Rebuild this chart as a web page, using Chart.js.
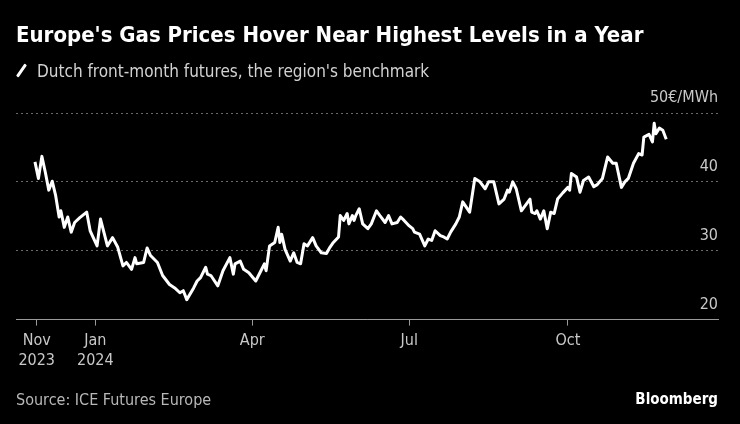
<!DOCTYPE html>
<html>
<head>
<meta charset="utf-8">
<script src="https://cdn.jsdelivr.net/npm/chart.js@4"></script>
<style>
  html, body { margin: 0; padding: 0; background: #000; }
  #wrap { position: relative; width: 740px; height: 424px; overflow: hidden; background: #000; }
  #chart-box { position: absolute; left: 0; top: 0; width: 740px; height: 424px; }
  .txt { position: absolute; white-space: nowrap; font-family: 'DejaVu Sans Condensed', 'DejaVu Sans', sans-serif; }
  #title { left: 16px; top: 22px; font-size: 22px; font-weight: bold; color: #fff; line-height: 26px; }
  #subtitle { left: 37px; top: 61px; font-size: 17px; color: #d2d2d2; line-height: 20px; }
  #slash { position: absolute; left: 20px; top: 63px; width: 3px; height: 15px; background: #fff; border-radius: 1px; transform: rotate(35deg); }
  #source { left: 16px; top: 391px; font-size: 16px; color: #b8b8b8; line-height: 18px; }
  #logo { right: 22px; top: 389px; font-size: 15px; font-weight: bold; color: #fff; line-height: 20px; }
</style>
</head>
<body>
<div id="wrap">
  <div id="chart-box"><canvas id="gas-chart"></canvas></div>
  <div class="txt" id="title">Europe's Gas Prices Hover Near Highest Levels in a Year</div>
  <div id="slash"></div>
  <div class="txt" id="subtitle">Dutch front-month futures, the region's benchmark</div>
  <div class="txt" id="source">Source: ICE Futures Europe</div>
  <div class="txt" id="logo">Bloomberg</div>
</div>
<script>
// Dutch TTF front-month, EUR/MWh
const dates = [
    '2023-11-27', '2023-11-29', '2023-12-01', '2023-12-03', '2023-12-05', '2023-12-07', '2023-12-09',
    '2023-12-11', '2023-12-12', '2023-12-14', '2023-12-16', '2023-12-18', '2023-12-20', '2023-12-23',
    '2023-12-27', '2023-12-29', '2024-01-02', '2024-01-04', '2024-01-08', '2024-01-11', '2024-01-14',
    '2024-01-17', '2024-01-19', '2024-01-22', '2024-01-24', '2024-01-25', '2024-01-29', '2024-01-31',
    '2024-02-02', '2024-02-06', '2024-02-09', '2024-02-13', '2024-02-16', '2024-02-19', '2024-02-21',
    '2024-02-23', '2024-02-27', '2024-02-29', '2024-03-02', '2024-03-05', '2024-03-06', '2024-03-08',
    '2024-03-12', '2024-03-15', '2024-03-19', '2024-03-21', '2024-03-22', '2024-03-25', '2024-03-27',
    '2024-03-30', '2024-04-03', '2024-04-06', '2024-04-08', '2024-04-09', '2024-04-11', '2024-04-14',
    '2024-04-16', '2024-04-17', '2024-04-18', '2024-04-20', '2024-04-23', '2024-04-25', '2024-04-27',
    '2024-04-29', '2024-05-01', '2024-05-03', '2024-05-06', '2024-05-08', '2024-05-11', '2024-05-14',
    '2024-05-16', '2024-05-18', '2024-05-21', '2024-05-22', '2024-05-24', '2024-05-26', '2024-05-27',
    '2024-05-29', '2024-05-30', '2024-05-31', '2024-06-02', '2024-06-04', '2024-06-07', '2024-06-09',
    '2024-06-12', '2024-06-14', '2024-06-17', '2024-06-19', '2024-06-21', '2024-06-24', '2024-06-26',
    '2024-06-28', '2024-07-01', '2024-07-03', '2024-07-04', '2024-07-07', '2024-07-10', '2024-07-12',
    '2024-07-14', '2024-07-16', '2024-07-19', '2024-07-21', '2024-07-23', '2024-07-25', '2024-07-28',
    '2024-07-30', '2024-08-01', '2024-08-05', '2024-08-08', '2024-08-11', '2024-08-14', '2024-08-16',
    '2024-08-19', '2024-08-22', '2024-08-25', '2024-08-27', '2024-08-28', '2024-08-30', '2024-09-01',
    '2024-09-04', '2024-09-09', '2024-09-10', '2024-09-12', '2024-09-13', '2024-09-15', '2024-09-17',
    '2024-09-19', '2024-09-21', '2024-09-23', '2024-09-25', '2024-09-28', '2024-10-01', '2024-10-02',
    '2024-10-03', '2024-10-06', '2024-10-08', '2024-10-10', '2024-10-13', '2024-10-16', '2024-10-18',
    '2024-10-21', '2024-10-24', '2024-10-27', '2024-10-29', '2024-11-01', '2024-11-03', '2024-11-05',
    '2024-11-08', '2024-11-11', '2024-11-13', '2024-11-14', '2024-11-17', '2024-11-19', '2024-11-20',
    '2024-11-21', '2024-11-23', '2024-11-25', '2024-11-27'
];
const prices = [
    42.9, 40.5, 43.7, 41.4, 38.8, 40.1, 38.0,
    34.9, 35.8, 33.4, 34.9, 32.7, 34.1, 34.8,
    35.6, 32.9, 30.7, 34.6, 30.7, 31.9, 30.5,
    27.8, 28.3, 27.3, 29.0, 28.1, 28.3, 30.4,
    29.3, 28.3, 26.4, 25.1, 24.6, 23.9, 24.2,
    22.9, 24.6, 25.6, 26.1, 27.6, 26.6, 26.4,
    24.9, 27.1, 29.0, 26.6, 28.1, 28.5, 27.3,
    26.8, 25.6, 27.1, 28.1, 27.1, 30.7, 31.2,
    33.4, 31.2, 32.4, 30.2, 28.5, 29.7, 28.3,
    28.1, 31.0, 30.7, 31.9, 30.7, 29.7, 29.6,
    30.5, 31.2, 32.0, 35.1, 34.4, 35.4, 33.9,
    35.1, 34.4, 35.1, 36.1, 33.9, 33.2, 33.9,
    35.8, 35.1, 34.1, 35.1, 33.9, 34.1, 34.9,
    34.4, 33.6, 33.2, 32.7, 32.4, 30.7, 31.7,
    31.5, 32.9, 32.2, 32.0, 31.7, 32.7, 33.9,
    34.9, 37.1, 35.6, 40.5, 40.0, 39.0, 40.0,
    40.0, 36.8, 37.5, 38.8, 38.5, 40.0, 39.0,
    35.8, 37.5, 35.6, 35.4, 35.8, 34.6, 35.8,
    33.2, 35.6, 35.4, 37.5, 38.4, 39.2, 38.8,
    41.2, 40.7, 38.5, 40.2, 40.7, 39.3, 39.6,
    40.5, 43.6, 42.7, 42.7, 39.2, 40.0, 40.5,
    42.7, 44.1, 43.9, 46.5, 46.9, 45.8, 48.5,
    47.0, 47.8, 47.5, 46.2
];

const xTickDates = ['2023-11-28', '2024-01-01', '2024-04-01', '2024-07-01', '2024-10-01'];
const xTickLabels = [['Nov', '2023'], ['Jan', '2024'], ['Apr'], ['Jul'], ['Oct']];
const yTicks = [20, 30, 40, 50];
const yUnit = '€/MWh';

const xMin = '2023-11-16';
const xMax = '2024-12-27';

const axisFont = { family: "'DejaVu Sans Condensed', 'DejaVu Sans', sans-serif", size: 16 };

const points = dates.map((d, i) => ({ x: Date.parse(d), y: prices[i] }));

new Chart(document.getElementById('gas-chart'), {
    type: 'line',
    data: {
        datasets: [{
            data: points,
            borderColor: '#ffffff',
            borderWidth: 3,
            pointRadius: 0,
            tension: 0,
            borderJoinStyle: 'round'
        }]
    },
    options: {
        responsive: true,
        maintainAspectRatio: false,
        animation: false,
        layout: { padding: { top: 113, left: 16, right: 22, bottom: 48 } },
        plugins: { legend: { display: false }, tooltip: { enabled: false } },
        scales: {
            x: {
                type: 'linear',
                min: Date.parse(xMin),
                max: Date.parse(xMax),
                afterBuildTicks: (scale) => {
                    scale.ticks = xTickDates.map(d => ({ value: Date.parse(d) }));
                },
                grid: { display: true, drawOnChartArea: false, drawTicks: true, tickLength: 6, color: '#9a9a9a' },
                border: { display: true, color: '#9a9a9a', width: 1 },
                ticks: {
                    autoSkip: false,
                    maxRotation: 0,
                    padding: 6,
                    color: '#c8c8c8',
                    font: axisFont,
                    callback: (value, index) => xTickLabels[index]
                }
            },
            y: {
                position: 'right',
                min: yTicks[0],
                max: yTicks[yTicks.length - 1],
                afterBuildTicks: (scale) => {
                    scale.ticks = yTicks.map(v => ({ value: v }));
                },
                grid: { color: '#6a6a6a', drawTicks: false, lineWidth: 1 },
                border: { display: false, dash: [2, 3] },
                ticks: {
                    mirror: true,
                    padding: 0,
                    labelOffset: -15,
                    color: '#c8c8c8',
                    font: axisFont,
                    callback: (v) => v === yTicks[yTicks.length - 1] ? v + yUnit : String(v)
                }
            }
        }
    }
});
</script>
</body>
</html>
